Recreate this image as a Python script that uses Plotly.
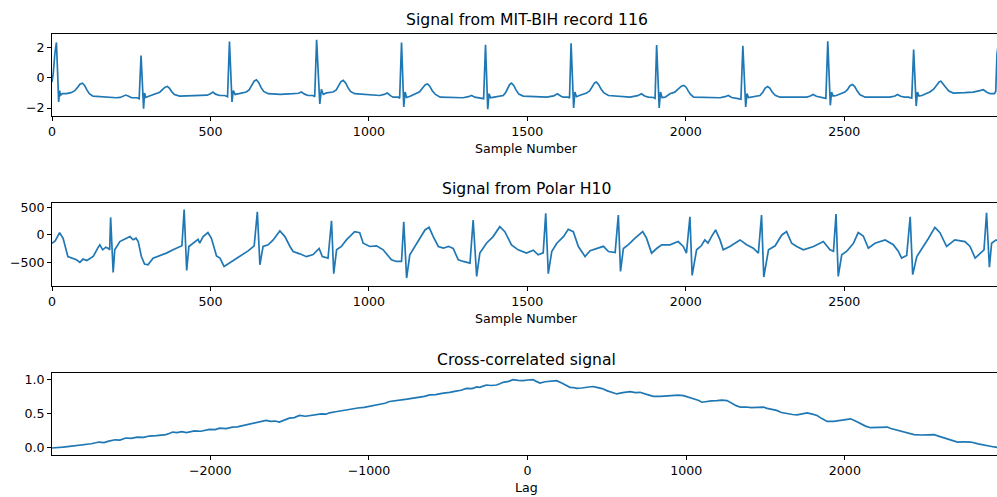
import plotly.graph_objects as go

# ---- MIT-BIH record 116 (sample index, amplitude) ----
mit_samples = [
    0, 4, 9, 14, 18, 21, 24, 27, 33, 45, 60, 72, 80, 88, 96, 103, 110, 118, 129, 150, 170,
    190, 203, 215, 224, 233, 242, 251, 268, 275,
    281, 289, 292, 296, 305, 330, 340, 350, 357, 364, 371, 378, 386, 403, 430, 466, 490,
    500, 508, 516, 529, 545, 554,
    560, 568, 572, 578, 590, 613, 622, 630, 638, 645, 652, 660, 668, 682, 720, 761, 778,
    787, 797, 808, 824, 829,
    835, 845, 850, 856, 866, 887, 897, 905, 912, 919, 927, 934, 942, 955, 1000, 1034, 1048,
    1058, 1068, 1076, 1092, 1097,
    1103, 1110, 1114, 1119, 1130, 1150, 1160, 1170, 1178, 1185, 1192, 1200, 1210, 1225, 1260,
    1297, 1314, 1324, 1334, 1345, 1355, 1362,
    1368, 1375, 1379, 1384, 1395, 1424, 1432, 1438, 1444, 1450, 1457, 1464, 1473, 1487, 1520,
    1561, 1583, 1595, 1605, 1613, 1629, 1633,
    1638, 1646, 1650, 1655, 1664, 1687, 1697, 1705, 1712, 1718, 1725, 1733, 1742, 1756, 1790,
    1824, 1848, 1860, 1870, 1882, 1898, 1903,
    1908, 1916, 1920, 1925, 1935, 1950, 1965, 1975, 1986, 1994, 2001, 2008, 2015, 2025, 2070,
    2108, 2124, 2134, 2145, 2155, 2165, 2174,
    2180, 2189, 2193, 2198, 2206, 2234, 2243, 2250, 2258, 2265, 2272, 2282, 2297, 2340, 2381,
    2393, 2402, 2412, 2425, 2434, 2442,
    2448, 2456, 2460, 2465, 2475, 2502, 2510, 2518, 2526, 2533, 2541, 2550, 2566, 2600, 2644,
    2660, 2668, 2678, 2690, 2702, 2713,
    2719, 2727, 2731, 2736, 2745, 2770, 2782, 2792, 2800, 2805, 2812, 2820, 2830, 2844, 2880,
    2907, 2928, 2939, 2950, 2960, 2974, 2978, 2982, 2986,
]
mit_values = [
    -0.28, 0.3, 1.6, 2.35, 0.2, -1.6, -0.85, -1.15, -1.05, -1.05, -0.98, -0.85, -0.65, -0.42,
    -0.35, -0.5, -0.8, -1.05, -1.21, -1.25, -1.28, -1.3, -1.32, -1.3, -1.2, -1.14, -1.22, -1.32,
    -1.32, -1.38,
    1.48, -2.04, -1.0, -1.3, -1.22, -1.05, -0.95, -0.75, -0.62, -0.57, -0.7, -0.92, -1.1, -1.21,
    -1.2, -1.17, -1.15, -1.05, -0.94, -1.08, -1.17, -1.17, -1.25,
    2.4, -1.6, -0.85, -1.1, -1.05, -0.94, -0.8, -0.5, -0.22, -0.13, -0.3, -0.65, -0.9, -1.05,
    -1.1, -1.05, -1.02, -0.94, -1.08, -1.17, -1.17, -1.25,
    2.53, -1.73, -0.76, -1.1, -1.0, -0.94, -0.8, -0.5, -0.25, -0.17, -0.35, -0.65, -0.9, -1.05,
    -1.12, -1.17, -1.1, -1.01, -1.18, -1.28, -1.28, -1.35,
    2.35, -1.93, -0.94, -1.3, -1.22, -1.05, -0.92, -0.65, -0.45, -0.4, -0.55, -0.85, -1.1, -1.28,
    -1.3, -1.32, -1.25, -1.17, -1.28, -1.32, -1.32, -1.38,
    2.2, -2.08, -1.05, -1.32, -1.28, -1.17, -0.95, -0.7, -0.45, -0.35, -0.5, -0.8, -1.08, -1.21,
    -1.25, -1.28, -1.2, -1.05, -1.2, -1.28, -1.28, -1.35,
    2.3, -2.0, -0.94, -1.25, -1.17, -1.01, -0.85, -0.55, -0.33, -0.28, -0.45, -0.75, -1.0, -1.17,
    -1.22, -1.28, -1.18, -1.05, -1.2, -1.28, -1.3, -1.36,
    2.18, -2.0, -0.94, -1.3, -1.28, -1.05, -0.95, -0.75, -0.55, -0.5, -0.62, -0.88, -1.1, -1.28,
    -1.3, -1.32, -1.25, -1.17, -1.3, -1.32, -1.38, -1.42,
    2.13, -1.93, -1.05, -1.3, -1.28, -1.17, -0.95, -0.7, -0.57, -0.68, -0.92, -1.15, -1.28, -1.3,
    -1.28, -1.2, -1.1, -1.22, -1.28, -1.32, -1.36,
    2.42, -1.82, -0.94, -1.2, -1.17, -0.94, -0.78, -0.52, -0.44, -0.58, -0.88, -1.12, -1.28,
    -1.26, -1.28, -1.2, -1.1, -1.22, -1.28, -1.28, -1.34,
    1.87, -1.87, -0.94, -1.2, -1.17, -0.94, -0.75, -0.45, -0.26, -0.22, -0.38, -0.62, -0.88,
    -1.01, -0.98, -0.94, -0.85, -0.79, -0.95, -1.05, -1.05, -0.9, 1.6, 2.2,
]

# ---- Polar H10 (sample index, amplitude) ----
polar_samples = [
    0, 10, 24, 35, 50, 61, 77, 88, 98, 110, 130, 146, 151, 160, 170, 178, 182,
    185, 193, 198, 203, 214, 235, 246, 256, 265, 272, 282, 292, 303, 319, 340, 361, 382, 403, 410,
    417, 425, 432, 445, 461, 466, 477, 492, 503, 519, 530, 543, 561, 593, 619, 638,
    648, 656, 666, 682, 698, 719, 735, 751, 761, 782, 803, 824, 843, 853, 871,
    882, 889, 898, 913, 929, 955, 971, 982, 1003, 1024, 1045, 1061, 1071, 1087, 1103,
    1110, 1119, 1129, 1145, 1161, 1177, 1190, 1203, 1219, 1235, 1251, 1266, 1282, 1298, 1319,
    1329, 1340, 1350, 1371, 1392, 1413, 1429, 1450, 1471, 1497, 1519, 1534, 1550,
    1558, 1566, 1577, 1593, 1614, 1629, 1645, 1661, 1682, 1698, 1719, 1740, 1756, 1777,
    1787, 1794, 1803, 1819, 1839, 1864, 1876, 1892, 1908, 1924, 1950, 1976, 1992, 2002,
    2013, 2020, 2034, 2049, 2060, 2070, 2081, 2094, 2108, 2118, 2139, 2171, 2192, 2213, 2229,
    2239, 2246, 2261, 2282, 2303, 2318, 2334, 2350, 2371, 2403, 2434, 2455, 2466,
    2474, 2481, 2492, 2508, 2529, 2544, 2560, 2576, 2597, 2629, 2655, 2671, 2681, 2697,
    2708, 2716, 2729, 2750, 2766, 2786, 2802, 2823, 2849, 2881, 2897, 2913, 2929, 2941,
    2949, 2958, 2965, 2979, 2990,
]
polar_values = [
    -153, -110, 42, -62, -397, -427, -457, -506, -445, -470, -397, -226, -183, -274, -226, -250, -274,
    322, -689, -274, -226, -122, -62, -31, -90, -60, -122, -397, -537, -550, -427, -385, -335, -274, -213, -200,
    468, -653, -213, -152, -80, -150, -31, 42, -62, -385, -427, -580, -510, -397, -293, -200,
    426, -549, -213, -183, -92, 73, -31, -213, -305, -348, -400, -360, -250, -397, -427,
    261, -713, -274, -213, -92, 60, 42, -153, -213, -200, -274, -397, -457, -488, -488,
    243, -793, -366, -201, -62, 91, 139, -31, -213, -244, -210, -250, -457, -488, -519,
    274, -762, -335, -153, -31, 152, 60, -183, -274, -335, -280, -366, -330,
    396, -713, -305, -153, -31, 103, 60, -213, -397, -290, -244, -210, -305, -323,
    365, -671, -250, -180, -62, 60, -60, -335, -250, -183, -183, -122, -213, -335,
    335, -744, -274, -200, -92, -150, -31, 91, -92, -274, -213, -92, -180, -244, -335,
    365, -775, -274, -200, -1, 60, -153, -213, -274, -213, -122, -274, -300,
    384, -762, -366, -300, -153, 42, -20, -244, -153, -92, -180, -305, -427, -380,
    335, -731, -397, -213, -62, 139, 40, -213, -92, -122, -213, -427, -335, -274,
    408, -592, -153, -92, -120,
]

# ---- Normalised cross-correlation (lag, value) ----
xcorr_lags = [
    -2998, -2970, -2954, -2930, -2900, -2870, -2840, -2807, -2780, -2750, -2701, -2670, -2640,
    -2600, -2570, -2533, -2500, -2460, -2420, -2385, -2340, -2300, -2280, -2255, -2238, -2210,
    -2180, -2150, -2133, -2100, -2060, -2030, -2006, -1970, -1940, -1900, -1860, -1830, -1800,
    -1776, -1740, -1700, -1670, -1649, -1620, -1590, -1565, -1535, -1502, -1470, -1438, -1400,
    -1365, -1333, -1300, -1270, -1249, -1210, -1175, -1143, -1110, -1070, -1030, -996, -960,
    -930, -900, -870, -830, -800, -760, -720, -680, -650, -617, -580, -540, -510, -491, -460,
    -420, -385, -350, -320, -301, -280, -259, -230, -196, -175, -154, -120, -91, -60, -28, 0,
    35, 55, 78, 110, 150, 183, 215, 240, 267, 290, 309, 340, 380, 410, 436, 470, 499, 530, 562,
    600, 646, 680, 709, 750, 793, 837, 880, 920, 950, 983, 1015, 1046, 1075, 1099, 1130, 1160,
    1194, 1225, 1257, 1290, 1315, 1341, 1380, 1410, 1446, 1470, 1488, 1510, 1531, 1570, 1600,
    1636, 1670, 1699, 1730, 1762, 1795, 1825, 1855, 1888, 1930, 1973, 2010, 2036, 2070, 2099,
    2130, 2162, 2200, 2230, 2267, 2290, 2309, 2350, 2400, 2436, 2480, 2520, 2562, 2595, 2625,
    2660, 2710, 2750, 2794, 2840, 2878, 2910, 2941, 2970, 2998,
]
xcorr_values = [
    0.0, 0.004, 0.0, 0.012, 0.02, 0.028, 0.036, 0.05, 0.048, 0.062, 0.087, 0.08, 0.1,
    0.12, 0.115, 0.146, 0.14, 0.16, 0.155, 0.175, 0.18, 0.19, 0.195, 0.215, 0.233, 0.225,
    0.24, 0.226, 0.233, 0.25, 0.245, 0.262, 0.272, 0.268, 0.29, 0.285, 0.306, 0.31, 0.325,
    0.34, 0.355, 0.37, 0.385, 0.403, 0.39, 0.395, 0.379, 0.41, 0.437, 0.445, 0.476, 0.465,
    0.48, 0.486, 0.5, 0.495, 0.515, 0.53, 0.545, 0.563, 0.57, 0.585, 0.595, 0.611, 0.625,
    0.64, 0.655, 0.68, 0.69, 0.7, 0.715, 0.73, 0.742, 0.755, 0.777, 0.78, 0.8, 0.805, 0.815, 0.83,
    0.845, 0.873, 0.87, 0.895, 0.888, 0.905, 0.922, 0.915, 0.922, 0.94, 0.961, 0.975, 1.0, 0.99, 0.985, 0.995,
    1.0, 0.975, 0.951, 0.97, 0.975, 0.985, 0.95, 0.915, 0.888, 0.885, 0.873, 0.878, 0.885, 0.9, 0.888, 0.87, 0.84, 0.81, 0.791,
    0.81, 0.825, 0.81, 0.815, 0.785, 0.757, 0.757, 0.765, 0.777, 0.775, 0.767, 0.745, 0.718, 0.7, 0.670, 0.685, 0.69,
    0.694, 0.7, 0.694, 0.65, 0.62, 0.597, 0.6, 0.59, 0.597, 0.6, 0.597, 0.58, 0.573, 0.55, 0.52,
    0.5, 0.49, 0.486, 0.5, 0.515, 0.495, 0.476, 0.43, 0.389, 0.39, 0.403, 0.41, 0.427, 0.39, 0.355,
    0.32, 0.297, 0.3, 0.295, 0.306, 0.285, 0.272, 0.25, 0.215, 0.195, 0.19, 0.192, 0.195, 0.17, 0.146,
    0.12, 0.087, 0.088, 0.087, 0.06, 0.039, 0.025, 0.015, 0.005, 0.0,
]

# ---- axis ticks ----
sample_ticks = [0, 500, 1000, 1500, 2000, 2500]
sample_ticktext = ["0", "500", "1000", "1500", "2000", "2500"]
lag_ticks = [-2000, -1000, 0, 1000, 2000]
lag_ticktext = ["\u22122000", "\u22121000", "0", "1000", "2000"]
mit_yticks = [-2, 0, 2]
mit_yticktext = ["\u22122", "0", "2"]
polar_yticks = [-500, 0, 500]
polar_yticktext = ["\u2212500", "0", "500"]
xcorr_yticks = [0.0, 0.5, 1.0]
xcorr_yticktext = ["0.0", "0.5", "1.0"]

titles = ["Signal from MIT-BIH record 116", "Signal from Polar H10", "Cross-correlated signal"]
xlabels = ["Sample Number", "Sample Number", "Lag"]

W, H = 997, 497
LEFT = 52
BLUE = "#1f77b4"
FONT = "DejaVu Sans"
TICK_FS = 12.6
TITLE_FS = 15.6

# pixel rows (top, bottom) of each panel
panels = [(31, 113.7), (201, 284.3), (372.3, 454.7)]


def ydom(top, bottom):
    return [1 - bottom / H, 1 - top / H]


fig = go.Figure()
fig.add_trace(go.Scatter(x=mit_samples, y=mit_values, mode="lines",
                         line=dict(color=BLUE, width=1.7), xaxis="x", yaxis="y"))
fig.add_trace(go.Scatter(x=polar_samples, y=polar_values, mode="lines",
                         line=dict(color=BLUE, width=1.7), xaxis="x2", yaxis="y2"))
fig.add_trace(go.Scatter(x=xcorr_lags, y=xcorr_values, mode="lines",
                         line=dict(color=BLUE, width=1.7), xaxis="x3", yaxis="y3"))

common_axis = dict(
    showgrid=False, zeroline=False, showline=True, linecolor="black", linewidth=1,
    ticks="outside", ticklen=4, tickwidth=1, tickcolor="black",
    tickfont=dict(family=FONT, size=TICK_FS, color="black"),
)

layout = dict(
    width=W, height=H,
    margin=dict(l=LEFT, r=0, t=0, b=0),
    paper_bgcolor="white", plot_bgcolor="white",
    showlegend=False,
)

x_ranges = [[0, 2982], [0, 2982], [-2998, 2959]]
y_ranges = [[-2.53, 2.92], [-932, 591], [-0.102, 1.097]]
x_ticks = [(sample_ticks, sample_ticktext), (sample_ticks, sample_ticktext), (lag_ticks, lag_ticktext)]
y_ticks = [(mit_yticks, mit_yticktext), (polar_yticks, polar_yticktext), (xcorr_yticks, xcorr_yticktext)]

for i in range(3):
    sfx = "" if i == 0 else str(i + 1)
    layout["xaxis" + sfx] = dict(
        common_axis, domain=[0, 1], range=x_ranges[i], mirror=True,
        tickvals=x_ticks[i][0], ticktext=x_ticks[i][1],
        anchor="y" + sfx,
    )
    layout["yaxis" + sfx] = dict(
        common_axis, domain=ydom(*panels[i]), range=y_ranges[i],
        tickvals=y_ticks[i][0], ticktext=y_ticks[i][1],
        anchor="x" + sfx,
    )

annotations = []
for i, (top, bottom) in enumerate(panels):
    cx = (526.5 - LEFT) / (W - LEFT)
    annotations.append(dict(
        text=titles[i], x=cx, y=1 - (top - 13.5) / H, xref="paper", yref="paper",
        xanchor="center", yanchor="middle", showarrow=False,
        font=dict(family=FONT, size=TITLE_FS, color="black"),
    ))
    annotations.append(dict(
        text=xlabels[i], x=cx, y=1 - (bottom + 33) / H, xref="paper", yref="paper",
        xanchor="center", yanchor="middle", showarrow=False,
        font=dict(family=FONT, size=TICK_FS, color="black"),
    ))
layout["annotations"] = annotations

fig.update_layout(**layout)
fig.write_html("out.html")
